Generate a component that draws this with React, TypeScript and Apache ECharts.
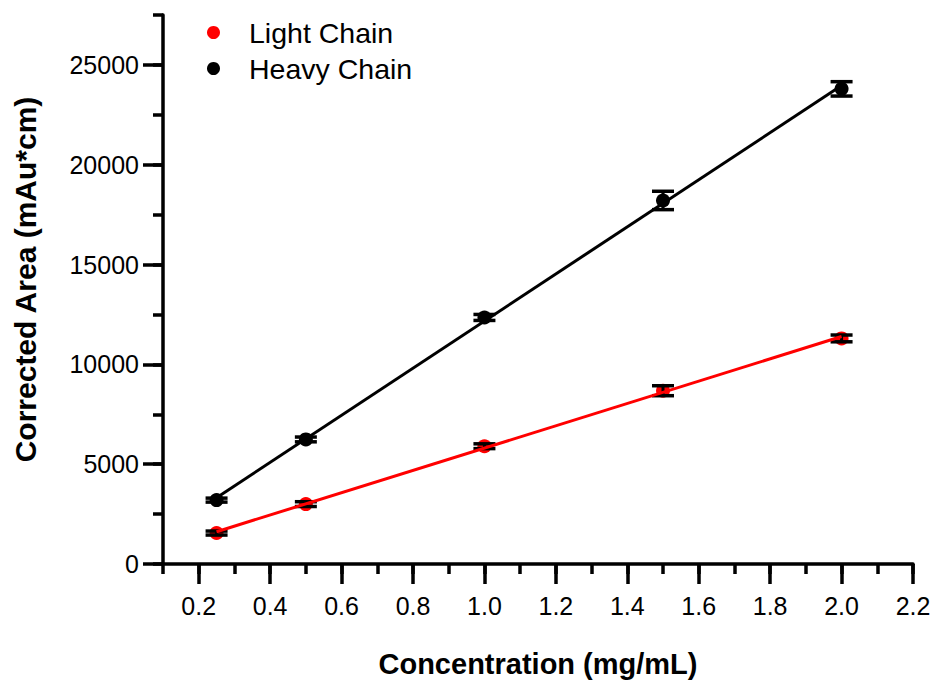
import React, { useEffect, useRef } from "react";
import * as echarts from "echarts";

const FONT = "'Liberation Sans', Arial, sans-serif";

const concentrations = [0.25, 0.5, 1.0, 1.5, 2.0];
const lightValues = [1550, 3000, 5900, 8680, 11300];
const lightErrors = [100, 120, 120, 250, 170];
const heavyValues = [3200, 6240, 12350, 18210, 23800];
const heavyErrors = [100, 120, 150, 460, 360];
const lightFit = [[0.25, 1616], [2.0, 11395]];
const heavyFit = [[0.25, 3318], [2.0, 23968]];
const xTickLabels = [0.2, 0.4, 0.6, 0.8, 1.0, 1.2, 1.4, 1.6, 1.8, 2.0, 2.2];
const yTickLabels = [0, 5000, 10000, 15000, 20000, 25000];

const errorRender = (params: any, api: any) => {
  const x = api.value(0);
  const y = api.value(1);
  const e = api.value(2);
  const top = api.coord([x, y + e]);
  const bot = api.coord([x, y - e]);
  const hw = 11;
  const st = { stroke: "#000", lineWidth: 3.5 };
  return {
    type: "group",
    children: [
      { type: "line", shape: { x1: top[0], y1: top[1], x2: bot[0], y2: bot[1] }, style: { stroke: "#000", lineWidth: 3 } },
      { type: "line", shape: { x1: top[0] - hw, y1: top[1], x2: top[0] + hw, y2: top[1] }, style: st },
      { type: "line", shape: { x1: bot[0] - hw, y1: bot[1], x2: bot[0] + hw, y2: bot[1] }, style: st },
    ],
  };
};

export default function App() {
  const ref = useRef<HTMLDivElement>(null);
  useEffect(() => {
    if (!ref.current) return;
    const chart = echarts.init(ref.current, null, { renderer: "svg" });
    const axisLineStyle = { color: "#000", width: 3.5 };
    const lightPts = concentrations.map((c, i) => [c, lightValues[i]]);
    const heavyPts = concentrations.map((c, i) => [c, heavyValues[i]]);
    const lightErr = concentrations.map((c, i) => [c, lightValues[i], lightErrors[i]]);
    const heavyErr = concentrations.map((c, i) => [c, heavyValues[i], heavyErrors[i]]);
    chart.setOption({
      animation: false,
      backgroundColor: "#fff",
      grid: { left: 163, right: 24, top: 15, bottom: 117, containLabel: false },
      legend: {
        orient: "vertical",
        left: 202,
        top: 13,
        icon: "circle",
        itemWidth: 13,
        itemHeight: 13,
        itemGap: 7,
        data: ["Light Chain", "Heavy Chain"],
        textStyle: { fontSize: 28.5, fontFamily: FONT, color: "#000", lineHeight: 28, padding: [0, 0, 0, 24] },
      },
      xAxis: [
        {
          type: "value",
          position: "bottom",
          min: 0.1,
          max: 2.2,
          interval: 0.1,
          name: "Concentration (mg/mL)",
          nameLocation: "middle",
          nameGap: 85,
          nameTextStyle: { fontSize: 29, fontWeight: "bold", fontFamily: FONT, color: "#000" },
          axisLine: { lineStyle: axisLineStyle },
          axisTick: { length: 20, lineStyle: axisLineStyle, customValues: xTickLabels },
          axisLabel: {
            customValues: xTickLabels,
            formatter: (v: number) => v.toFixed(1),
            fontSize: 25,
            fontFamily: FONT,
            color: "#000",
            margin: 29,
          },
          splitLine: { show: false },
        },
        {
          type: "value",
          position: "bottom",
          min: 0.1,
          max: 2.2,
          interval: 0.1,
          axisLine: { show: false },
          axisTick: { length: 10, lineStyle: axisLineStyle },
          axisLabel: { show: false },
          splitLine: { show: false },
        },
      ],
      yAxis: [
        {
          type: "value",
          position: "left",
          min: 0,
          max: 27500,
          interval: 2500,
          name: "Corrected Area (mAu*cm)",
          nameLocation: "middle",
          nameGap: 123,
          nameTextStyle: {
            fontSize: 30,
            fontWeight: "bold",
            fontFamily: FONT,
            color: "#000",
            padding: [0, 0, 0, 20],
          },
          axisLine: { show: true, lineStyle: axisLineStyle },
          axisTick: { show: true, length: 20, lineStyle: axisLineStyle, customValues: yTickLabels },
          axisLabel: {
            customValues: yTickLabels,
            formatter: (v: number) => String(v),
            fontSize: 25,
            fontFamily: FONT,
            color: "#000",
            margin: 24,
          },
          splitLine: { show: false },
        },
        {
          type: "value",
          position: "left",
          min: 0,
          max: 27500,
          interval: 2500,
          axisLine: { show: false },
          axisTick: { show: true, length: 10, lineStyle: axisLineStyle },
          axisLabel: { show: false },
          splitLine: { show: false },
        },
      ],
      series: [
        {
          name: "Light Chain",
          type: "scatter",
          data: lightPts,
          symbol: "circle",
          symbolSize: 14,
          itemStyle: { color: "#ff0000", opacity: 1 },
          z: 2,
        },
        {
          name: "Heavy Chain",
          type: "scatter",
          data: heavyPts,
          symbol: "circle",
          symbolSize: 14,
          itemStyle: { color: "#000", opacity: 1 },
          z: 2,
        },
        { type: "custom", data: lightErr, renderItem: errorRender, encode: { x: 0, y: 1 }, z: 3 },
        { type: "custom", data: heavyErr, renderItem: errorRender, encode: { x: 0, y: 1 }, z: 3 },
        {
          type: "line",
          data: heavyFit,
          showSymbol: false,
          symbol: "none",
          lineStyle: { color: "#000", width: 3 },
          z: 4,
        },
        {
          type: "line",
          data: lightFit,
          showSymbol: false,
          symbol: "none",
          lineStyle: { color: "#ff0000", width: 3 },
          z: 4,
        },
      ],
    });
    return () => chart.dispose();
  }, []);
  return (
    <div
      ref={ref}
      style={{ position: "absolute", left: 0, top: 0, width: 937, height: 683, background: "#fff" }}
    />
  );
}
